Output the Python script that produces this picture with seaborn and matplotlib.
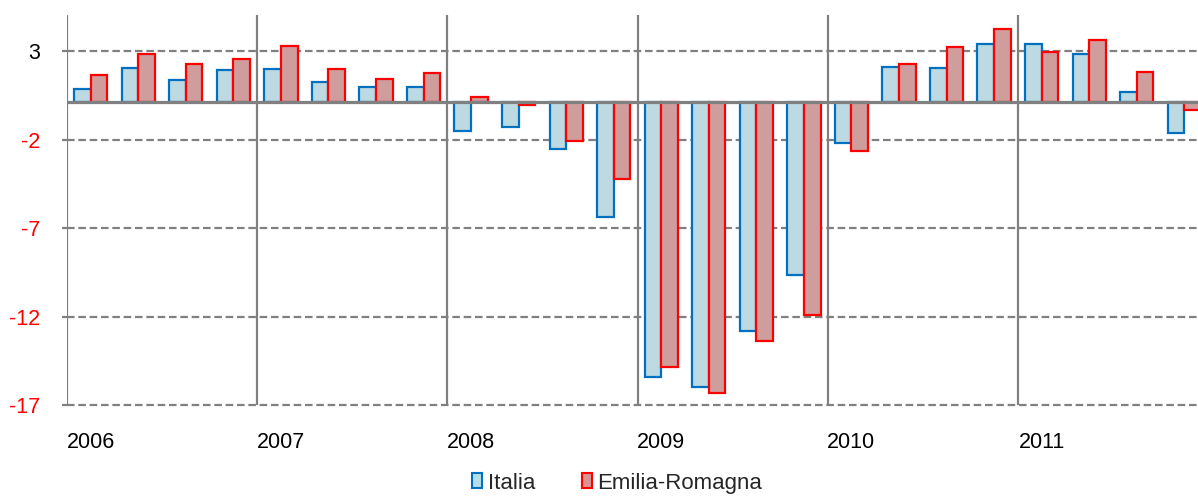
import matplotlib
matplotlib.use("Agg")
import matplotlib.pyplot as plt
from matplotlib.patches import Patch
import seaborn as sns
import pandas as pd

years = ["2006", "2007", "2008", "2009", "2010", "2011"]
quarters = ["I", "II", "III", "IV"]
series_names = ["Italia", "Emilia-Romagna"]
italia = [0.77, 1.92, 1.25, 1.81, 1.90, 1.13, 0.89, 0.89,
          -1.61, -1.39, -2.63, -6.47, -15.50, -16.07, -12.90, -9.74,
          -2.27, 2.02, 1.92, 3.28, 3.28, 2.72, 0.57, -1.71]
emilia = [1.56, 2.72, 2.15, 2.47, 3.17, 1.90, 1.34, 1.68,
          0.32, -0.15, -2.18, -4.34, -14.94, -16.42, -13.47, -12.00,
          -2.74, 2.15, 3.14, 4.16, 2.83, 3.51, 1.70, -0.45]
ytick_values = [2.9, -2.1, -7.1, -12.1, -17.1]
ytick_labels = ["3", "-2", "-7", "-12", "-17"]

periods = [f"{y}-{q}" for y in years for q in quarters]
xtick_labels = [y if q == "I" else "" for y in years for q in quarters]

df = pd.DataFrame({
    "period": periods * 2,
    "serie": [series_names[0]] * len(periods) + [series_names[1]] * len(periods),
    "valore": italia + emilia,
})

fills = {"Italia": "#B7DDE8", "Emilia-Romagna": "#D99594"}
edges = {"Italia": "#0070C0", "Emilia-Romagna": "#FF0000"}

sns.set_style("white")
plt.rcParams["font.family"] = ["Liberation Sans", "DejaVu Sans"]

fig = plt.figure(figsize=(11.98, 4.97), dpi=100)
ax = fig.add_axes([67 / 1198, 1 - 405.3 / 497, 1141 / 1198, (405.3 - 15) / 497])

sns.barplot(data=df, x="period", y="valore", hue="serie", order=periods,
            hue_order=series_names, palette=fills, width=0.7, dodge=True,
            ax=ax, legend=False, zorder=2)

for cont, name in zip(ax.containers, series_names):
    for p in cont:
        p.set_edgecolor(edges[name])
        p.set_linewidth(1.6)

ax.set_xlim(-0.5, 23.5)
ax.set_ylim(-17.1, 4.93)

# dashed horizontal gridlines
for v in ytick_values:
    ax.axhline(v, color="#808080", lw=1.6, dashes=(3.4, 1.7), zorder=1,
               clip_on=False)

# year separators
for i in range(0, 24, 4):
    ax.axvline(i - 0.5, color="#808080", lw=1.6, zorder=3)

# zero axis line
ax.axhline(0, color="#808080", lw=2.3, zorder=4)

for s in ax.spines.values():
    s.set_visible(False)

ax.set_yticks(ytick_values)
ax.set_yticklabels(ytick_labels)
for lbl, txt in zip(ax.get_yticklabels(), ytick_labels):
    lbl.set_color("black" if not txt.startswith("-") else "#FF0000")
ax.tick_params(axis="y", length=3.6, width=1.6, color="#808080", pad=15.5,
               labelsize=15.5, left=True)

ax.set_xticks(range(len(periods)))
ax.set_xticklabels(xtick_labels)
ax.tick_params(axis="x", length=0, pad=19, labelsize=15.5, labelcolor="black")
ax.set_xlabel("")
ax.set_ylabel("")

handles = [Patch(facecolor=fills[n], edgecolor=edges[n], linewidth=1.5, label=n)
           for n in series_names]
fig.legend(handles=handles, loc="center", bbox_to_anchor=(0.515, 0.028),
           ncol=2, frameon=False, fontsize=16, handlelength=0.45,
           handleheight=0.63, handletextpad=0.27, columnspacing=2.1)

fig.savefig("out.png", dpi=100)
